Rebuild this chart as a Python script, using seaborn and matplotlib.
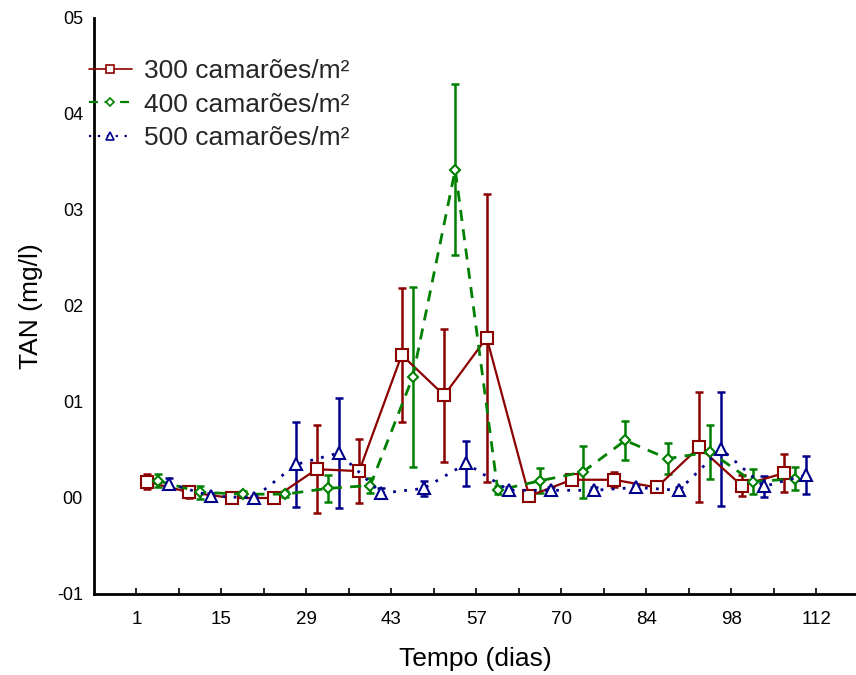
import matplotlib
matplotlib.use("Agg")
import matplotlib.pyplot as plt
from matplotlib.lines import Line2D
import seaborn as sns
import pandas as pd
import numpy as np

# ---- data (TAN, mg/l) ----
coleta = list(range(16))  # sampling index (weekly)
x_tick_labels = ["1", "15", "29", "43", "57", "70", "84", "98", "112"]
y_tick_labels = ["-01", "00", "01", "02", "03", "04", "05"]
y_tick_values = [-0.1, 0.0, 0.1, 0.2, 0.3, 0.4, 0.5]

series_names = ["300 camarões/m²", "400 camarões/m²", "500 camarões/m²"]

tan_300 = [0.017, 0.006, 0.000, 0.000, 0.030, 0.028, 0.149, 0.107, 0.167, 0.002,
           0.019, 0.019, 0.011, 0.053, 0.013, 0.026]
err_300 = [0.008, 0.006, 0.002, 0.002, 0.046, 0.033, 0.070, 0.069, 0.150, 0.003,
           0.005, 0.008, 0.003, 0.057, 0.011, 0.020]

tan_400 = [0.018, 0.006, 0.004, 0.004, 0.010, 0.013, 0.126, 0.342, 0.008, 0.018,
           0.027, 0.060, 0.041, 0.048, 0.017, 0.020]
err_400 = [0.007, 0.007, 0.003, 0.003, 0.014, 0.008, 0.094, 0.089, 0.004, 0.013,
           0.027, 0.020, 0.016, 0.028, 0.013, 0.012]

tan_500 = [0.015, 0.002, 0.000, 0.035, 0.047, 0.005, 0.010, 0.036, 0.008, 0.008,
           0.008, 0.011, 0.008, 0.051, 0.012, 0.024]
err_500 = [0.0055, 0.003, 0.002, 0.044, 0.057, 0.005, 0.008, 0.023, 0.003, 0.003,
           0.003, 0.003, 0.003, 0.059, 0.011, 0.020]

values = [tan_300, tan_400, tan_500]
errors = [err_300, err_400, err_500]

# ---- styles ----
colors = ["#8b0000", "#008000", "#00008b"]
offsets = [-0.26, 0.0, 0.26]
markers = ["s", "D", "^"]
msizes = [8.0, 5.0, 8.0]
linestyles = ["-", (0, (4, 3)), (0, (1, 3))]

sns.set_theme(style="white")
plt.rcParams["font.family"] = ["Liberation Sans", "DejaVu Sans"]

fig = plt.figure(figsize=(8.56, 6.75), dpi=100)
ax = fig.add_axes([94 / 856, 1 - 594 / 675, 1 - 94 / 856, (594 - 18) / 675])

frames = []
for name, v, e, off in zip(series_names, values, errors, offsets):
    frames.append(pd.DataFrame({"pos": np.array(coleta) + off, "tan": v,
                                "err": e, "grupo": name}))
df = pd.concat(frames, ignore_index=True)

handles = []
for name, col, mk, ms, ls in zip(series_names, colors, markers, msizes, linestyles):
    d = df[df["grupo"] == name]
    ax.errorbar(d["pos"], d["tan"], yerr=d["err"], fmt="none", ecolor=col,
                elinewidth=1.8, capsize=3.0, capthick=1.8, zorder=2)
    sns.lineplot(data=d, x="pos", y="tan", ax=ax, color=col, linestyle=ls,
                 linewidth=1.6 if ls == "-" else 2.0, marker=mk, markersize=ms,
                 markerfacecolor="white", markeredgecolor=col,
                 markeredgewidth=1.5, zorder=3, legend=False, errorbar=None,
                 sort=False)
    handles.append(Line2D([], [], color=col, linestyle=ls,
                          linewidth=1.2 if ls == "-" else 1.6, marker=mk,
                          markersize=ms * 0.8, markerfacecolor="white",
                          markeredgecolor=col, markeredgewidth=1.2, label=name))

ax.set_xlim(-1.5, 16.43)
ax.set_ylim(-0.1, 0.5)
all_ticks = np.arange(-0.5, 16.0, 1.0)
ax.set_xticks(all_ticks)
ax.set_xticklabels([x_tick_labels[i // 2] if i % 2 == 0 else "" for i in range(len(all_ticks))])
ax.set_yticks(y_tick_values)
ax.set_yticklabels(y_tick_labels)
ax.tick_params(axis="x", direction="in", length=4, width=1.2, labelsize=13.5, pad=12,
               color="black", bottom=True)
ax.tick_params(axis="y", length=0, labelsize=13, pad=8)
for lab in ax.get_xticklabels() + ax.get_yticklabels():
    lab.set_color("black")

sns.despine(ax=ax)
for sp in ["left", "bottom"]:
    ax.spines[sp].set_color("black")
    ax.spines[sp].set_linewidth(2.0)

ax.set_xlabel("Tempo (dias)", fontsize=19, labelpad=14, color="black")
ax.set_ylabel("TAN (mg/l)", fontsize=19, labelpad=10, color="black")

fig.legend(handles=handles, loc="upper left", bbox_to_anchor=(89 / 856, 1 - 59 / 675),
           frameon=False, fontsize=19, handlelength=1.62, handletextpad=0.48,
           labelspacing=0.36, borderaxespad=0, borderpad=0)

fig.savefig("out.png", dpi=100)
